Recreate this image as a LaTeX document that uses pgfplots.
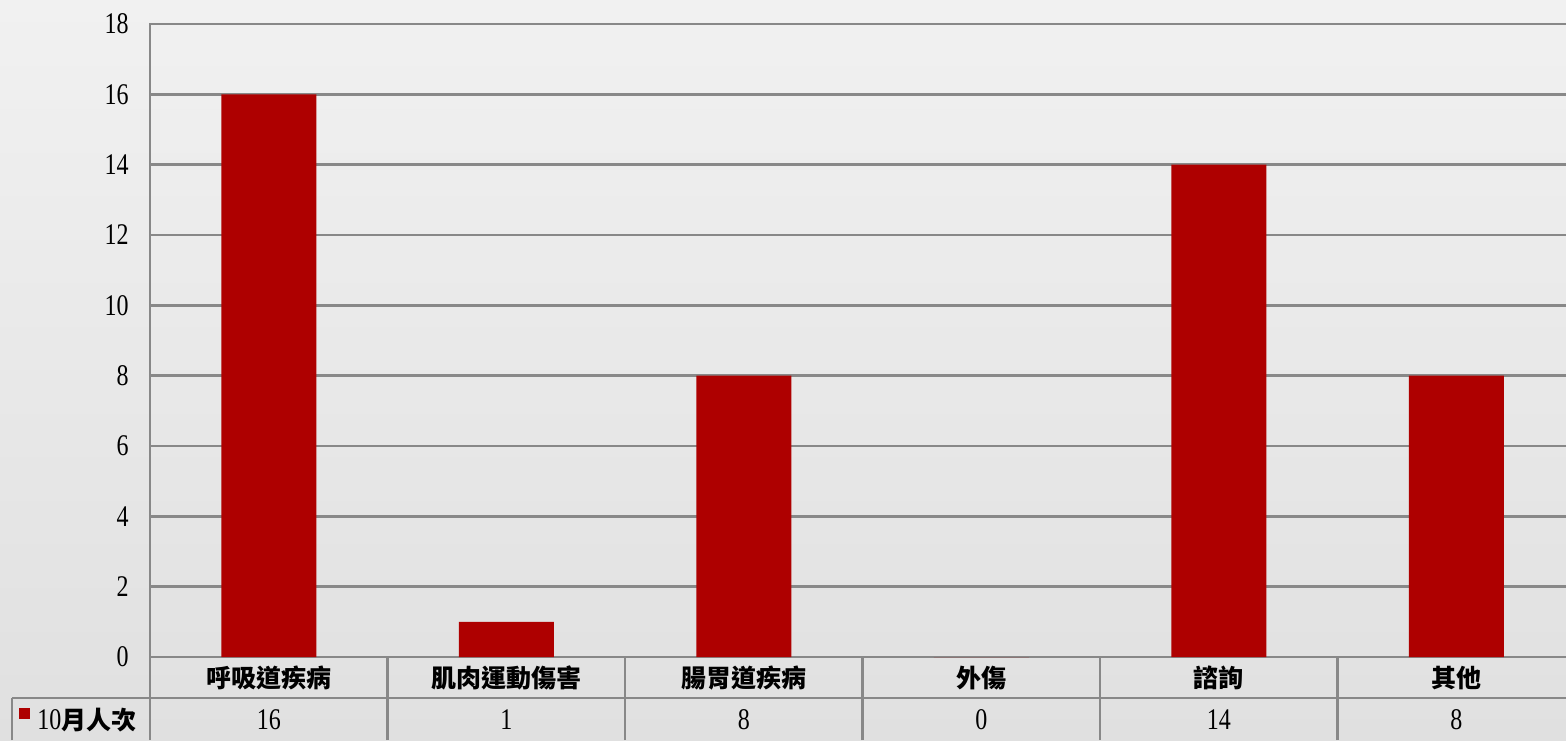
\documentclass[border=0pt]{standalone}
\usepackage{pgfplots}
\pgfplotsset{compat=1.18}
\usepackage{fontspec}
\setmainfont{Liberation Serif}
\newfontfamily\numfont[FakeStretch=0.8]{Liberation Serif}
\newfontfamily\cjk{Noto Sans CJK TC}
\definecolor{barred}{RGB}{174,0,0}
\definecolor{gridgray}{RGB}{136,136,136}
\definecolor{bgtop}{RGB}{241,241,241}
\definecolor{bgbot}{RGB}{224,224,224}
\begin{document}
\begin{tikzpicture}[x=1pt,y=1pt]
\path[use as bounding box] (0,0) rectangle (783,370);
\shade[top color=bgtop,bottom color=bgbot] (0,0) rectangle (783,370);
\begin{axis}[
  at={(75pt,41.5pt)}, anchor=south west,
  scale only axis, width=712.5pt, height=316.5pt,
  xmin=-0.5, xmax=5.5, ymin=0, ymax=18,
  ytick={0,2,...,18},
  xtick={0,1,2,3,4,5},
  xticklabels={呼吸道疾病,肌肉運動傷害,腸胃道疾病,外傷,諮詢,其他},
  major tick length=0pt,
  ymajorgrids,
  grid style={gridgray, line width=1.3pt},
  axis line style={gridgray, line width=1.3pt},
  /pgf/number format/assume math mode=true,
  yticklabel style={anchor=east, inner sep=0pt, xshift=-10.5pt, font=\numfont\fontsize{15}{17}\selectfont},
  xticklabel style={anchor=base, inner sep=0pt, yshift=-15pt, font=\cjk\bfseries\fontsize{12.5}{15}\selectfont},
  clip=false,
]
\addplot[ybar, bar width=47.5pt, fill=barred, draw=none]
  coordinates {(0,16) (1,1) (2,8) (3,0) (4,14) (5,8)};
\addplot[draw=none, mark=none, nodes near coords, point meta=explicit,
  every node near coord/.append style={anchor=base, inner sep=0pt, yshift=-36pt, font=\numfont\fontsize{15}{17}\selectfont, text=black}]
  coordinates {(0,0)[16] (1,0)[1] (2,0)[8] (3,0)[0] (4,0)[14] (5,0)[8]};
\end{axis}
\begin{scope}[gridgray, line width=1.3pt]
\draw (75,0) -- (75,41.5);
\foreach \xx in {193.75,312.5,431.25,550,668.75} {\draw (\xx,0) -- (\xx,41.5);}
\draw (6,21) -- (783,21);
\draw (6,0) -- (6,21);
\end{scope}
\fill[barred] (9.5,10.5) rectangle (15,16);
\node[anchor=base west, inner sep=0pt] at (18.5,5.5) {\numfont\fontsize{15}{17}\selectfont 10\cjk\bfseries\fontsize{12.5}{15}\selectfont 月人次};
\end{tikzpicture}
\end{document}
